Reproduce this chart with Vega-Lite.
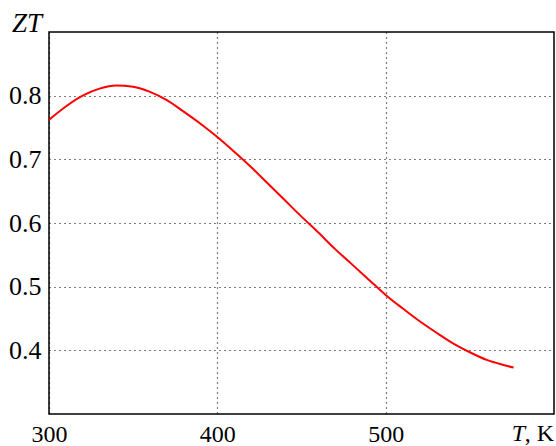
{
  "$schema": "https://vega.github.io/schema/vega-lite/v6.json",
  "autosize": "none",
  "padding": {"left": 49, "top": 32, "right": 2, "bottom": 32},
  "width": 505,
  "height": 382,
  "config": {
    "view": {"stroke": "#000", "strokeWidth": 1.5},
    "font": "Liberation Serif",
    "axis": {"labelFont": "Liberation Serif", "titleFont": "Liberation Serif"},
    "text": {"font": "Liberation Serif"}
  },
  "datasets": {
    "curve": [
      {"T": 300, "ZT": 0.762}, {"T": 310, "ZT": 0.783}, {"T": 320, "ZT": 0.800},
      {"T": 330, "ZT": 0.811}, {"T": 340, "ZT": 0.816}, {"T": 350, "ZT": 0.814},
      {"T": 360, "ZT": 0.806}, {"T": 370, "ZT": 0.793}, {"T": 380, "ZT": 0.775},
      {"T": 390, "ZT": 0.756}, {"T": 400, "ZT": 0.735}, {"T": 410, "ZT": 0.712},
      {"T": 420, "ZT": 0.688}, {"T": 430, "ZT": 0.662}, {"T": 440, "ZT": 0.636},
      {"T": 450, "ZT": 0.610}, {"T": 460, "ZT": 0.585}, {"T": 470, "ZT": 0.559},
      {"T": 480, "ZT": 0.535}, {"T": 490, "ZT": 0.511}, {"T": 500, "ZT": 0.487},
      {"T": 510, "ZT": 0.466}, {"T": 520, "ZT": 0.446}, {"T": 530, "ZT": 0.428},
      {"T": 540, "ZT": 0.411}, {"T": 550, "ZT": 0.397}, {"T": 560, "ZT": 0.385},
      {"T": 570, "ZT": 0.377}, {"T": 576, "ZT": 0.373}
    ],
    "labels": [
      {"T": 300, "ZT": 0.9, "text": "ZT", "kind": "ylab"},
      {"T": 600, "ZT": 0.3, "text": "T", "kind": "xT"},
      {"T": 600, "ZT": 0.3, "text": ", K", "kind": "xK"}
    ]
  },
  "layer": [
    {
      "data": {"name": "curve"},
      "mark": {"type": "line", "color": "#ff0000", "strokeWidth": 2, "interpolate": "monotone"},
      "encoding": {
        "x": {
          "field": "T", "type": "quantitative",
          "scale": {"domain": [300, 600], "nice": false, "zero": false},
          "axis": {
            "title": null, "values": [300, 400, 500], "domain": false, "ticks": false,
            "labelFont": "Liberation Serif", "labelFontSize": 24, "labelColor": "#000",
            "labelPadding": 8, "labelFlush": false,
            "grid": true, "gridColor": "#000", "gridDash": [1, 4], "gridWidth": 1.2, "gridOpacity": 1
          }
        },
        "y": {
          "field": "ZT", "type": "quantitative",
          "scale": {"domain": [0.3, 0.9], "nice": false, "zero": false},
          "axis": {
            "title": null, "values": [0.4, 0.5, 0.6, 0.7, 0.8], "format": ".1f", "domain": false, "ticks": false,
            "labelFont": "Liberation Serif", "labelFontSize": 26, "labelColor": "#000",
            "labelPadding": 8,
            "grid": true, "gridColor": "#000", "gridDash": [1, 4], "gridWidth": 1.2, "gridOpacity": 1
          }
        }
      }
    },
    {
      "data": {"name": "labels"},
      "transform": [{"filter": "datum.kind == 'ylab'"}],
      "mark": {"type": "text", "align": "right", "baseline": "alphabetic", "dx": -7, "dy": 0, "font": "Liberation Serif", "fontStyle": "italic", "fontSize": 27, "color": "#000"},
      "encoding": {
        "x": {"field": "T", "type": "quantitative"},
        "y": {"field": "ZT", "type": "quantitative"},
        "text": {"field": "text"}
      }
    },
    {
      "data": {"name": "labels"},
      "transform": [{"filter": "datum.kind == 'xT'"}],
      "mark": {"type": "text", "align": "right", "baseline": "alphabetic", "dx": -29, "dy": 27, "font": "Liberation Serif", "fontStyle": "italic", "fontSize": 24, "color": "#000"},
      "encoding": {
        "x": {"field": "T", "type": "quantitative"},
        "y": {"field": "ZT", "type": "quantitative"},
        "text": {"field": "text"}
      }
    },
    {
      "data": {"name": "labels"},
      "transform": [{"filter": "datum.kind == 'xK'"}],
      "mark": {"type": "text", "align": "right", "baseline": "alphabetic", "dx": 0, "dy": 27, "font": "Liberation Serif", "fontSize": 24, "color": "#000"},
      "encoding": {
        "x": {"field": "T", "type": "quantitative"},
        "y": {"field": "ZT", "type": "quantitative"},
        "text": {"field": "text"}
      }
    }
  ]
}
